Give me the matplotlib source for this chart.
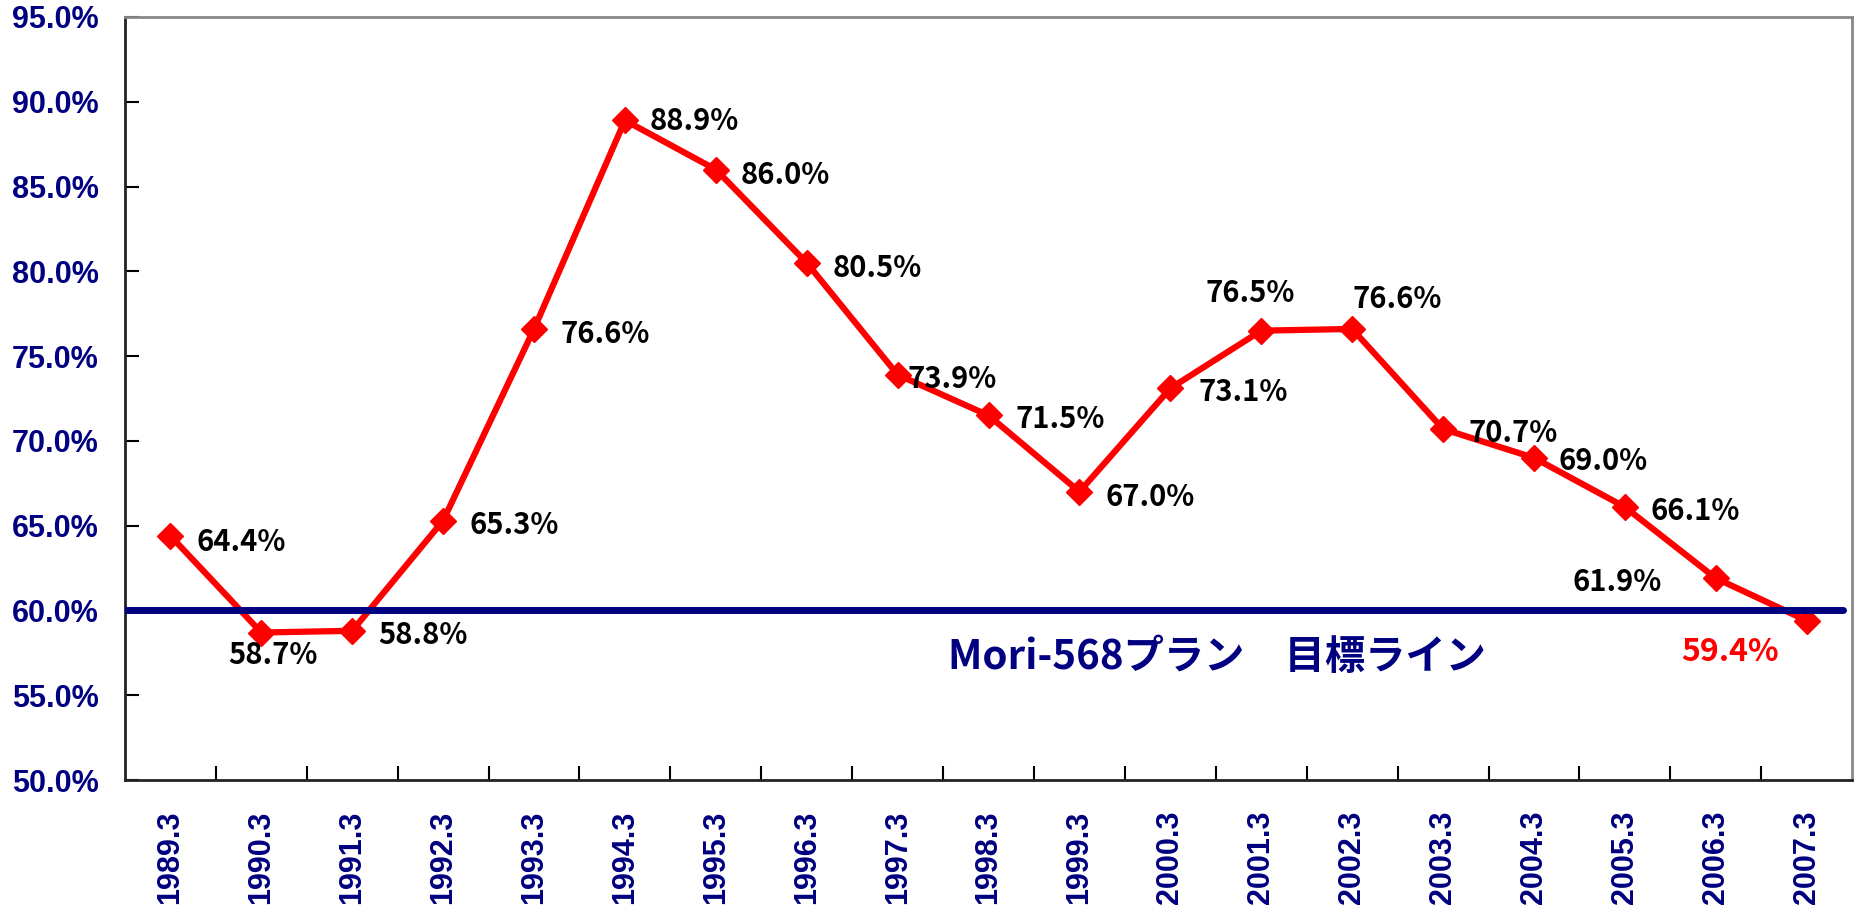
import matplotlib
matplotlib.use("Agg")
import matplotlib.pyplot as plt

# fiscal year-end labels and ratio values (%)
years = ["1989.3", "1990.3", "1991.3", "1992.3", "1993.3", "1994.3", "1995.3",
         "1996.3", "1997.3", "1998.3", "1999.3", "2000.3", "2001.3", "2002.3",
         "2003.3", "2004.3", "2005.3", "2006.3", "2007.3"]
ratio = [64.4, 58.7, 58.8, 65.3, 76.6, 88.9, 86.0, 80.5, 73.9, 71.5, 67.0,
         73.1, 76.5, 76.6, 70.7, 69.0, 66.1, 61.9, 59.4]
target = 60.0
target_label = "Mori-568プラン\u3000目標ライン"

# label placement: (dx, dy) in pixels and horizontal alignment
offsets = [(26, -6, "left"), (12, -22, "center"), (26, -4, "left"), (26, -4, "left"),
           (26, -5, "left"), (25, -1, "left"), (25, -5, "left"), (26, -5, "left"),
           (10, -4, "left"), (27, -4, "left"), (26, -5, "left"), (28, -4, "left"),
           (-11, 38, "center"), (0, 30, "left"), (25, -4, "left"), (25, -3, "left"),
           (26, -4, "left"), (-99, -4, "center"), (-77, -31, "center")]

navy = "#000080"
jp = ["Noto Sans CJK JP", "DejaVu Sans"]

fig = plt.figure(figsize=(18.54, 9.15), dpi=100)
ax = fig.add_axes([0.0674, 0.1475, 0.9316, 0.834])

x = list(range(len(years)))
ax.plot(x, ratio, color="#ff0000", lw=4.5, marker="D", ms=13,
        mec="#ff0000", mfc="#ff0000", zorder=3)
ax.plot([-0.5, 18.4], [target, target], color=navy, lw=5,
        solid_capstyle="round", zorder=4)

for i, v in enumerate(ratio):
    dx, dy, ha = offsets[i]
    last = i == len(ratio) - 1
    ax.annotate("%.1f%%" % v, (i, v), xytext=(dx, dy), textcoords="offset pixels",
                ha=ha, va="center", family=jp, weight="bold",
                fontsize=23 if last else 21,
                color="#ff0000" if last else "black", zorder=5)

ax.text(8.55, 57.25, target_label, ha="left", va="center", family=jp,
        weight="bold", fontsize=29, color=navy)

ax.set_xlim(-0.5, len(years) - 0.5)
ax.set_ylim(50, 95)
ax.set_yticks(range(50, 96, 5))
ax.set_yticklabels(["%.1f%%" % t for t in range(50, 96, 5)])
ax.set_xticks(x)
ax.set_xticklabels(years, rotation=90, va="top", ha="center")
ax.set_xticks([i + 0.5 for i in x[:-1]], minor=True)

for lab in ax.get_yticklabels() + ax.get_xticklabels():
    lab.set_family("Liberation Sans")
    lab.set_weight("bold")
    lab.set_color(navy)
    lab.set_fontsize(22)

ax.tick_params(axis="y", direction="in", length=10, width=1.5, pad=19)
ax.tick_params(axis="x", which="major", length=0, pad=22)
ax.tick_params(axis="x", which="minor", direction="in", length=10, width=1.5)

for s in ["left", "bottom"]:
    ax.spines[s].set_color("#222222")
    ax.spines[s].set_linewidth(2)
for s in ["top", "right"]:
    ax.spines[s].set_color("#888888")
    ax.spines[s].set_linewidth(2)

fig.savefig("out.png", dpi=100)
